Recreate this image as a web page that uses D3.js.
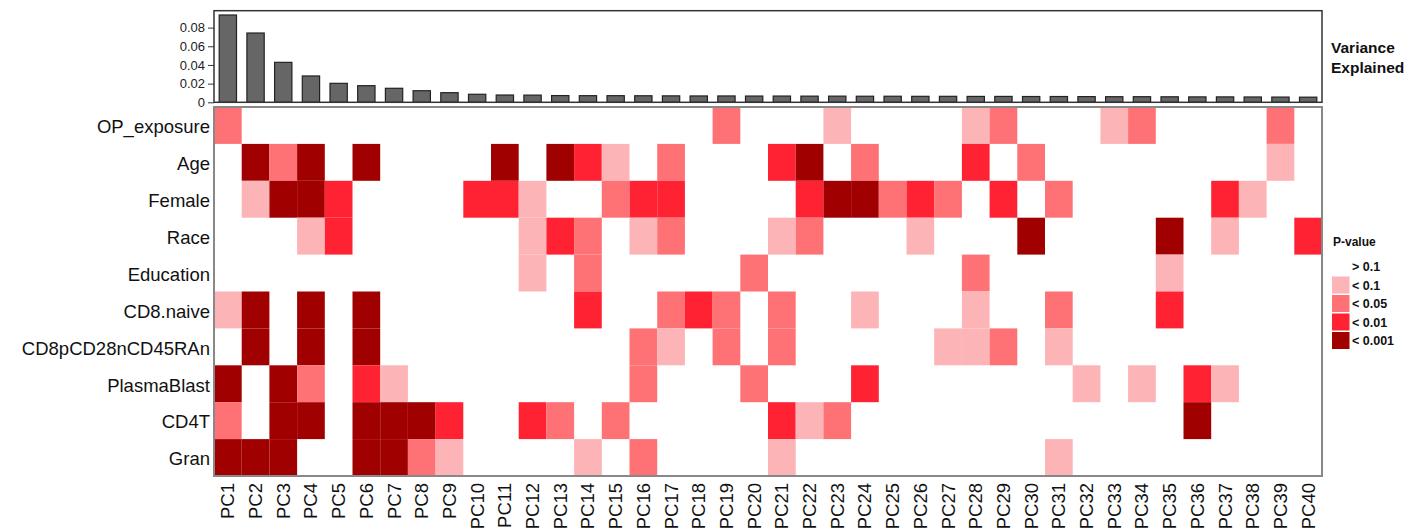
<!DOCTYPE html>
<html><head><meta charset="utf-8">
<script src="https://cdn.jsdelivr.net/npm/d3@7"></script>
<style>body{margin:0;background:#fff}svg{display:block;font-family:"Liberation Sans",Arial,sans-serif}</style>
</head><body><svg id="c" width="1410" height="528"></svg>
<script>
const pcs = d3.range(1,41).map(i=>"PC"+i);
const rowNames = ["OP_exposure","Age","Female","Race","Education","CD8.naive","CD8pCD28nCD45RAn","PlasmaBlast","CD4T","Gran"];
const variance = [0.0935,0.0742,0.0428,0.0282,0.0203,0.0178,0.0150,0.0124,0.0103,0.0086,0.0078,0.0077,0.0072,0.0071,0.0071,0.0070,0.0069,0.0068,0.0068,0.0067,0.0067,0.0066,0.0066,0.0065,0.0065,0.0064,0.0064,0.0063,0.0063,0.0062,0.0062,0.0061,0.0060,0.0060,0.0059,0.0058,0.0058,0.0057,0.0056,0.0055];
const varTicks = [0,0.02,0.04,0.06,0.08];
const legendLabels = ["> 0.1","< 0.1","< 0.05","< 0.01","< 0.001"];
const legendColors = ["#FFFFFF","#FDB4B7","#FE7276","#FE2233","#A10000"];
// p-value class per row (0: >0.1, 1: <0.1, 2: <0.05, 3: <0.01, 4: <0.001)
const OP_exposure = [2,0,0,0,0,0,0,0,0,0, 0,0,0,0,0,0,0,0,2,0, 0,0,1,0,0,0,0,1,2,0, 0,0,1,2,0,0,0,0,2,0];
const Age         = [0,4,2,4,0,4,0,0,0,0, 4,0,4,3,1,0,2,0,0,0, 3,4,0,2,0,0,0,3,0,2, 0,0,0,0,0,0,0,0,1,0];
const Female      = [0,1,4,4,3,0,0,0,0,3, 3,1,0,0,2,3,3,0,0,0, 0,3,4,4,2,3,2,0,3,0, 2,0,0,0,0,0,3,1,0,0];
const Race        = [0,0,0,1,3,0,0,0,0,0, 0,1,3,2,0,1,2,0,0,0, 1,2,0,0,0,1,0,0,0,4, 0,0,0,0,4,0,1,0,0,3];
const Education   = [0,0,0,0,0,0,0,0,0,0, 0,1,0,2,0,0,0,0,0,2, 0,0,0,0,0,0,0,2,0,0, 0,0,0,0,1,0,0,0,0,0];
const CD8naive    = [1,4,0,4,0,4,0,0,0,0, 0,0,0,3,0,0,2,3,2,0, 2,0,0,1,0,0,0,1,0,0, 2,0,0,0,3,0,0,0,0,0];
const CD8pCD28n   = [0,4,0,4,0,4,0,0,0,0, 0,0,0,0,0,2,1,0,2,0, 2,0,0,0,0,0,1,1,2,0, 1,0,0,0,0,0,0,0,0,0];
const PlasmaBlast = [4,0,4,2,0,3,1,0,0,0, 0,0,0,0,0,2,0,0,0,2, 0,0,0,3,0,0,0,0,0,0, 0,1,0,1,0,3,1,0,0,0];
const CD4T        = [2,0,4,4,0,4,4,4,3,0, 0,3,2,0,2,0,0,0,0,0, 3,1,2,0,0,0,0,0,0,0, 0,0,0,0,0,4,0,0,0,0];
const Gran        = [4,4,4,0,0,4,4,2,1,0, 0,0,0,1,0,2,0,0,0,0, 1,0,0,0,0,0,0,0,0,0, 1,0,0,0,0,0,0,0,0,0];
const rowsData = [OP_exposure,Age,Female,Race,Education,CD8naive,CD8pCD28n,PlasmaBlast,CD4T,Gran];

const svg = d3.select("#c");
const L = 214, R = 1322;
const topT = 10.7, topB = 102.3, hmT = 107, hmB = 476;

const x = d3.scaleBand().domain(pcs).range([L,R]);
const xBar = d3.scaleBand().domain(pcs).range([L,R]).paddingInner(0.375).paddingOuter(0.1875);
const yVar = d3.scaleLinear().domain([0,0.0981]).range([topB,topT]);
const y = d3.scaleBand().domain(rowNames).range([hmT,hmB]);
const color = d3.scaleOrdinal().domain([0,1,2,3,4]).range(legendColors);

// top bars
svg.append("g").selectAll("rect").data(variance).join("rect")
  .attr("x",(d,i)=>xBar(pcs[i])).attr("width",xBar.bandwidth())
  .attr("y",d=>yVar(d)).attr("height",d=>yVar(0)-yVar(d))
  .attr("fill","#666").attr("stroke","#222").attr("stroke-width",1.2);
svg.append("rect").attr("x",L).attr("y",topT).attr("width",R-L).attr("height",topB-topT)
  .attr("fill","none").attr("stroke","#333").attr("stroke-width",1.5);
const ya = svg.append("g").attr("transform",`translate(${L},0)`)
  .call(d3.axisLeft(yVar).tickValues(varTicks).tickSize(6).tickPadding(3).tickFormat(d=>d===0?"0":d3.format(".2f")(d)));
ya.select(".domain").remove();
ya.selectAll("text").attr("font-size",13).attr("fill","#222").style("font-family","Liberation Sans, Arial, sans-serif");
ya.selectAll("line").attr("stroke","#333");

svg.append("text").attr("x",1331).attr("y",53).attr("font-size",15.5).attr("font-weight","bold").attr("fill","#111").text("Variance");
svg.append("text").attr("x",1331).attr("y",73).attr("font-size",15.5).attr("font-weight","bold").attr("fill","#111").text("Explained");

// heatmap
const cells = [];
rowsData.forEach((arr,ri)=>arr.forEach((v,ci)=>cells.push({r:rowNames[ri],c:pcs[ci],v})));
svg.append("g").selectAll("rect").data(cells.filter(d=>d.v>0)).join("rect")
  .attr("x",d=>x(d.c)).attr("y",d=>y(d.r)).attr("width",x.bandwidth()).attr("height",y.bandwidth())
  .attr("fill",d=>color(d.v));
svg.append("rect").attr("x",L).attr("y",hmT).attr("width",R-L).attr("height",hmB-hmT)
  .attr("fill","none").attr("stroke","#888").attr("stroke-width",2);

const yl = svg.append("g").attr("transform",`translate(${L},0)`).call(d3.axisLeft(y).tickSize(0).tickPadding(4));
yl.select(".domain").remove();
yl.selectAll("text").attr("font-size",18.5).attr("fill","#111").attr("dy","0.42em").style("font-family","Liberation Sans, Arial, sans-serif");

const xl = svg.append("g").attr("transform",`translate(0,${hmB})`).call(d3.axisBottom(x).tickSize(0));
xl.select(".domain").remove();
xl.selectAll("text").attr("font-size",18.5).attr("fill","#111").style("font-family","Liberation Sans, Arial, sans-serif")
  .attr("text-anchor","end").attr("transform","rotate(-90)").attr("x",-7).attr("y",0).attr("dy","0.35em");

// legend
svg.append("text").attr("x",1333).attr("y",246).attr("font-size",12).attr("font-weight","bold").attr("fill","#111").text("P-value");
const lg = svg.append("g");
legendLabels.forEach((lab,i)=>{
  const yy = 258 + i*18.5;
  lg.append("rect").attr("x",1332).attr("y",yy).attr("width",17.5).attr("height",17).attr("fill",legendColors[i]);
  lg.append("text").attr("x",1352).attr("y",yy+13).attr("font-size",12.5).attr("font-weight","bold").attr("fill","#111").text(lab);
});
</script></body></html>
